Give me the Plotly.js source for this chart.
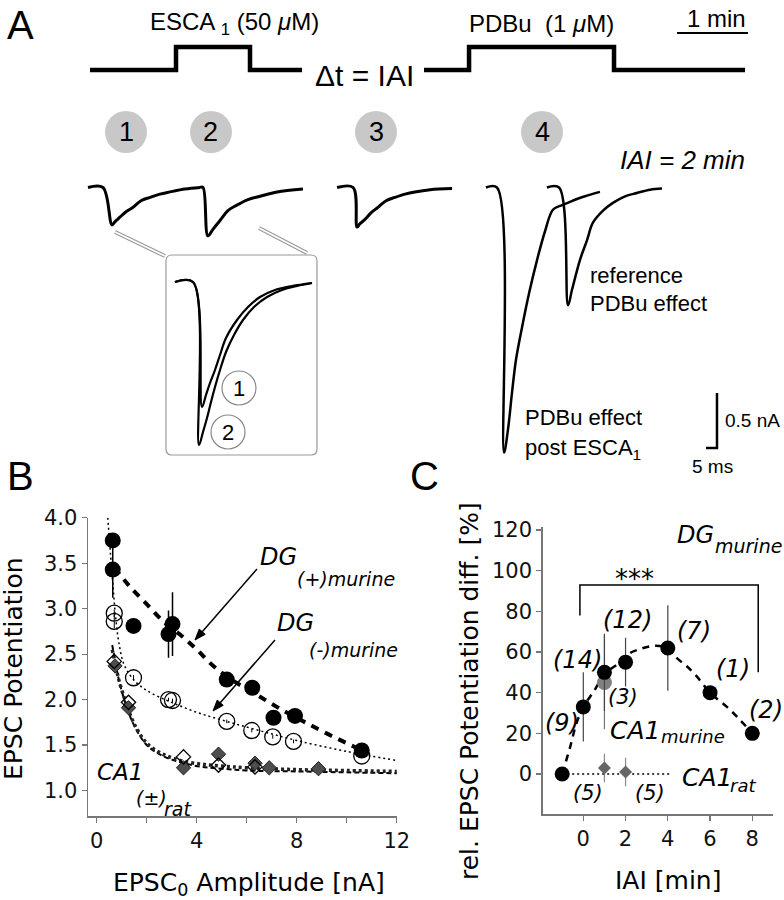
<!DOCTYPE html>
<html><head><meta charset="utf-8">
<script src="https://cdn.plot.ly/plotly-3.0.1.min.js"></script>
<style>html,body{margin:0;padding:0;background:#fff}#plot{width:784px;height:900px}</style>
</head><body><div id="plot"></div>
<script>
// ================= DATA =================
// Panel A: application protocol (time in min, level 0 = off, 1 = on)
const protocolEscaTime  = [1.268, 2.479, 2.479, 3.521, 3.521, 4.254];
const protocolEscaLevel = [0, 0, 1, 1, 0, 0];
const protocolPdbuTime  = [5.972, 6.606, 6.606, 8.648, 8.648, 10.493];
const protocolPdbuLevel = [0, 0, 1, 1, 0, 0];
const scaleMinTime  = [9.535, 10.535];
const scaleMinLevel = [1.609, 1.609];

// Panel A: EPSC sweeps (time in ms, current in nA)
const sweep1T = [40.0, 46.8, 50.9, 52.3, 54.5, 57.3, 60.5, 64.1, 68.2, 72.7, 77.3, 84.1, 90.9];
const sweep1I = [0, 0, -0.34, -0.31, -0.27, -0.22, -0.18, -0.12, -0.09, -0.06, -0.04, -0.014, 0];
const sweep2T = [90.9, 92.3, 94.5, 96.8, 100.0, 103.6, 107.7, 112.7, 118.2, 125.9, 137.7];
const sweep2I = [0, 0, -0.44, -0.38, -0.30, -0.21, -0.16, -0.11, -0.08, -0.04, -0.014];
const sweep3T = [153.2, 160.5, 162.3, 163.6, 165.9, 168.6, 171.8, 175.5, 179.5, 184.1, 188.6, 195.5, 205.5];
const sweep3I = [0, 0, -0.36, -0.33, -0.29, -0.23, -0.18, -0.12, -0.09, -0.06, -0.04, -0.02, -0.01];
const sweep4T = [220.9, 225.9, 229.1, 230.9, 232.7, 234.5, 237.3, 240.5, 244.1, 247.7, 251.4, 255.5, 259.1, 265.9, 272.7];
const sweep4I = [0, 0, -2.41, -2.20, -1.87, -1.57, -1.27, -0.96, -0.66, -0.40, -0.20, -0.16, -0.13, -0.08, -0.04];
const refSweepT = [248.6, 254.1, 258.2, 260.0, 263.6, 266.8, 269.5, 274.1, 278.6, 284.1, 289.5, 295.5, 300.9];
const refSweepI = [0, 0, -1.07, -0.93, -0.66, -0.48, -0.32, -0.21, -0.14, -0.08, -0.05, -0.02, -0.01];
const scaleBarT = [320.9, 325.9, 325.9];
const scaleBarI = [-2.368, -2.368, -1.868];

// Panel A inset: normalised EPSCs 1 and 2 (time in ms)
const insetT1 = [3.33, 10.0, 13.33, 14.81, 16.30, 18.15, 20.0, 22.22, 26.30, 30.37, 34.81, 40.37, 46.67, 54.07];
const insetI1 = [0, 0, -1.0, -0.904, -0.808, -0.704, -0.584, -0.448, -0.304, -0.2, -0.12, -0.064, -0.032, -0.008];
const insetT2 = [3.33, 10.0, 12.22, 13.70, 15.19, 16.67, 18.15, 20.0, 22.22, 25.19, 28.52, 32.59, 37.41, 42.96, 48.52, 54.07];
const insetI2 = [0, 0, -1.304, -1.2, -1.088, -0.96, -0.84, -0.704, -0.56, -0.424, -0.304, -0.2, -0.12, -0.064, -0.032, -0.008];

// Panel B: EPSC potentiation vs EPSC0 amplitude (nA)
const dgPlusAmp = [0.64, 0.64, 1.47, 2.87, 3.03, 5.2, 6.22, 7.07, 7.93, 10.6];
const dgPlusPot = [3.75, 3.43, 2.81, 2.72, 2.83, 2.22, 2.13, 1.80, 1.82, 1.44];
const dgPlusErr = [0, 0.31, 0, 0.26, 0.35, 0, 0, 0, 0, 0];
const dgMinusAmp = [0.70, 0.70, 1.47, 2.87, 3.03, 5.2, 6.2, 7.04, 7.87, 10.6];
const dgMinusPot = [2.95, 2.86, 2.24, 2.00, 1.99, 1.76, 1.66, 1.59, 1.54, 1.38];
const dgMinusErr = [0.04, 0.08, 0.03, 0.02, 0.02, 0.02, 0.02, 0.02, 0.02, 0.02];
const ca1FilledAmp = [0.73, 1.27, 3.47, 4.87, 6.33, 6.9, 8.87];
const ca1FilledPot = [2.37, 1.91, 1.25, 1.40, 1.30, 1.25, 1.24];
const ca1OpenAmp = [0.70, 1.27, 3.47, 4.87, 6.33];
const ca1OpenPot = [2.42, 1.97, 1.37, 1.28, 1.26];
const dgPlusFitAmp = [0.7, 1.3, 2.0, 2.7, 3.4, 4.0, 4.7, 5.5, 6.3, 7.2, 8.2, 9.4, 10.7];
const dgPlusFitPot = [3.45, 3.25, 3.05, 2.85, 2.7, 2.55, 2.36, 2.2, 2.07, 1.92, 1.77, 1.6, 1.43];
const dgMinusFitAmp = [0.44, 0.55, 0.65, 0.75, 0.9, 1.1, 1.47, 2.0, 2.9, 4.0, 5.2, 6.5, 8.0, 10.0, 12.0];
const dgMinusFitPot = [4.0, 3.6, 3.25, 2.92, 2.6, 2.38, 2.22, 2.1, 1.98, 1.86, 1.76, 1.66, 1.55, 1.43, 1.33];
const ca1FitAAmp = [0.62, 0.75, 0.9, 1.1, 1.3, 1.6, 2.0, 2.5, 3.0, 3.5, 4.2, 5.0, 6.0, 8.0, 10.0, 12.0];
const ca1FitAPot = [2.55, 2.38, 2.2, 2.02, 1.86, 1.68, 1.52, 1.42, 1.36, 1.32, 1.29, 1.27, 1.25, 1.23, 1.22, 1.21];
const ca1FitBAmp = [0.62, 0.75, 0.9, 1.1, 1.3, 1.6, 2.0, 2.5, 3.0, 3.5, 4.2, 5.0, 6.0, 8.0, 10.0, 12.0];
const ca1FitBPot = [2.6, 2.4, 2.2, 2.0, 1.84, 1.66, 1.5, 1.4, 1.34, 1.3, 1.26, 1.24, 1.22, 1.21, 1.2, 1.19];
const bXTicks = [0, 4, 8, 12];
const bXMinorTicks = [2, 6, 10];
const bYTicks = [1.0, 1.5, 2.0, 2.5, 3.0, 3.5, 4.0];
const bYTickText = ['1.0', '1.5', '2.0', '2.5', '3.0', '3.5', '4.0'];

// Panel C: rel. potentiation difference (%) vs IAI (min)
const dgIAI = [-1, 0, 1, 2, 4, 6, 8];
const dgDiff = [0, 33, 50, 55, 62, 40, 20];
const dgDiffErr = [0, 17, 19, 12, 21, 0, 0];
const ca1MurIAI = [1];
const ca1MurDiff = [45];
const ca1MurErr = [23];
const ca1RatIAI = [1, 2];
const ca1RatDiff = [3, 1];
const ca1RatErr = [7, 7];
const ca1RatLineIAI = [-1, 4.1];
const ca1RatLineDiff = [0, 0];
const dgFitIAI = [-1, -0.63, -0.32, 0, 0.32, 0.55, 1.0, 1.74, 2.13, 2.69, 3.32, 4.0, 4.43, 4.9, 5.37, 6.0, 6.8, 7.43, 8.0];
const dgFitDiff = [0, 13, 25, 33, 38, 41.5, 49, 55, 59, 61.5, 63, 62, 57, 53, 48, 40, 33, 26.5, 20];
const cXTicks = [0, 2, 4, 6, 8];
const cYTicks = [0, 20, 40, 60, 80, 100, 120];

// ================= DRAWING =================
const FA = 'Liberation Sans, Arial, Helvetica, sans-serif';
const FV = 'DejaVu Sans, Verdana, sans-serif';
const W = 784, H = 900;
const PX = v => v / W, PY = v => 1 - v / H;

const traces = [];
function line(x, y, xa, ya, width, color, dash, shape) {
  traces.push({x, y, xaxis: xa, yaxis: ya, type: 'scatter', mode: 'lines',
    line: {width, color, dash: dash || 'solid', shape: shape || 'linear'}});
}
// protocol
line(protocolEscaTime, protocolEscaLevel, 'x5', 'y5', 4.5, '#000');
line(protocolPdbuTime, protocolPdbuLevel, 'x5', 'y5', 4.5, '#000');
line(scaleMinTime, scaleMinLevel, 'x5', 'y5', 2, '#000');
// sweeps
line(sweep1T, sweep1I, 'x3', 'y3', 3, '#000', 'solid', 'spline');
line(sweep2T, sweep2I, 'x3', 'y3', 3, '#000', 'solid', 'spline');
line(sweep3T, sweep3I, 'x3', 'y3', 3, '#000', 'solid', 'spline');
line(sweep4T, sweep4I, 'x3', 'y3', 2.5, '#000', 'solid', 'spline');
line(refSweepT, refSweepI, 'x3', 'y3', 2.5, '#000', 'solid', 'spline');
line(scaleBarT, scaleBarI, 'x3', 'y3', 2.5, '#000');
// inset
line(insetT1, insetI1, 'x4', 'y4', 2.2, '#000', 'solid', 'spline');
line(insetT2, insetI2, 'x4', 'y4', 2.2, '#000', 'solid', 'spline');

// Panel B fits
line(ca1FitBAmp, ca1FitBPot, 'x', 'y', 2, '#000', '5px,3px', 'spline');
line(ca1FitAAmp, ca1FitAPot, 'x', 'y', 3.5, '#222', '3px,3px', 'spline');
line(dgMinusFitAmp, dgMinusFitPot, 'x', 'y', 1.5, '#000', '2px,3px', 'spline');
line(dgPlusFitAmp, dgPlusFitPot, 'x', 'y', 4, '#000', '8px,7px', 'spline');
// Panel B markers
traces.push({x: ca1FilledAmp, y: ca1FilledPot, xaxis: 'x', yaxis: 'y', type: 'scatter', mode: 'markers',
  marker: {symbol: 'diamond', size: 11, color: '#4d4d4d', line: {color: '#222', width: 1}}});
traces.push({x: ca1OpenAmp, y: ca1OpenPot, xaxis: 'x', yaxis: 'y', type: 'scatter', mode: 'markers',
  marker: {symbol: 'diamond-open', size: 11, color: '#000', line: {width: 1.3}}});
traces.push({x: dgMinusAmp, y: dgMinusPot, xaxis: 'x', yaxis: 'y', type: 'scatter', mode: 'markers',
  error_y: {type: 'data', array: dgMinusErr, color: '#000', thickness: 1, width: 0},
  marker: {symbol: 'circle-open', size: 16, color: '#000', line: {width: 1.3}}});
traces.push({x: dgPlusAmp, y: dgPlusPot, xaxis: 'x', yaxis: 'y', type: 'scatter', mode: 'markers',
  error_y: {type: 'data', array: dgPlusErr, color: '#000', thickness: 1.5, width: 0},
  marker: {symbol: 'circle', size: 16, color: '#000'}});

// Panel C
line(dgFitIAI, dgFitDiff, 'x2', 'y2', 2.5, '#000', '7px,6px', 'spline');
line(ca1RatLineIAI, ca1RatLineDiff, 'x2', 'y2', 1.5, '#000', '2px,3px');
traces.push({x: ca1MurIAI, y: ca1MurDiff, xaxis: 'x2', yaxis: 'y2', type: 'scatter', mode: 'markers',
  error_y: {type: 'data', array: ca1MurErr, color: '#777', thickness: 1.2, width: 0},
  marker: {symbol: 'circle', size: 15, color: '#808080'}});
traces.push({x: ca1RatIAI, y: ca1RatDiff, xaxis: 'x2', yaxis: 'y2', type: 'scatter', mode: 'markers',
  error_y: {type: 'data', array: ca1RatErr, color: '#888', thickness: 1.2, width: 0},
  marker: {symbol: 'diamond', size: 10, color: '#666'}});
traces.push({x: dgIAI, y: dgDiff, xaxis: 'x2', yaxis: 'y2', type: 'scatter', mode: 'markers',
  error_y: {type: 'data', array: dgDiffErr, color: '#444', thickness: 1.2, width: 0},
  marker: {symbol: 'circle', size: 15, color: '#000'}});

// annotations
function T(text, px, py, size, o) {
  o = o || {};
  return {text, x: PX(px), y: PY(py), xref: 'paper', yref: 'paper', showarrow: false,
    xanchor: o.xa || 'left', yanchor: 'middle', textangle: o.rot || 0,
    font: {family: o.f || FA, size, color: o.c || '#000'}};
}
const cV = {f: FV, xa: 'center'};
const ann = [
  T('A', 5, 25, 40),
  T('ESCA <sub>1</sub> (50 <i>μ</i>M)', 148, 24, 24),
  T('PDBu\u00a0 (1 <i>μ</i>M)', 467, 23, 24),
  T('1 min', 716, 19, 24, {xa: 'center'}),
  T('Δt = IAI', 313, 76, 30),
  T('1', 126, 132, 27, {xa: 'center'}),
  T('2', 211, 132, 27, {xa: 'center'}),
  T('3', 376, 132, 27, {xa: 'center'}),
  T('4', 542, 132, 27, {xa: 'center'}),
  T('<i>IAI = 2 min</i>', 682, 160, 26, {xa: 'center'}),
  T('reference', 588, 275, 22),
  T('PDBu effect', 588, 303, 22),
  T('PDBu effect', 523, 417, 22),
  T('post ESCA<sub>1</sub>', 523, 449, 22),
  T('0.5 nA', 723, 420, 19),
  T('5 ms', 712, 467, 19, {xa: 'center'}),
  T('1', 239, 388, 22, {xa: 'center'}),
  T('2', 228, 432, 22, {xa: 'center'}),
  // B
  T('B', 5, 476, 40),
  T('<i>DG</i>', 258, 557, 24, {f: FV}),
  T('<i>(+)murine</i>', 295, 579, 19, {f: FV}),
  T('<i>DG</i>', 275, 623, 24, {f: FV}),
  T('<i>(-)murine</i>', 307, 650, 19, {f: FV}),
  T('<i>CA1</i>', 95, 772, 23, {f: FV}),
  T('<i>(±)</i>', 134, 798, 19, {f: FV}),
  T('<i>rat</i>', 162, 809, 19, {f: FV}),
  T('EPSC Potentiation', 13, 669, 25, {f: FV, xa: 'center', rot: -90}),
  T('EPSC<sub>0</sub> Amplitude [nA]', 249, 884, 25, cV),
  // C
  T('C', 408, 476, 40),
  T('<i>DG</i>', 695, 535, 24, cV),
  T('<i>murine</i>', 748, 546, 19, cV),
  T('***', 634, 579, 26, cV),
  T('<i>(14)</i>', 577.5, 660, 24, cV),
  T('<i>(12)</i>', 627.5, 620, 24, cV),
  T('<i>(7)</i>', 694, 631, 24, cV),
  T('<i>(1)</i>', 732.5, 669, 24, cV),
  T('<i>(2)</i>', 766, 710, 24, cV),
  T('<i>(9)</i>', 561.7, 722.5, 24, cV),
  T('<i>(3)</i>', 623, 697, 21, cV),
  T('<i>CA1</i>', 635, 730, 25, cV),
  T('<i>murine</i>', 692.5, 736, 18, cV),
  T('<i>(5)</i>', 588, 793, 21, cV),
  T('<i>(5)</i>', 650, 793, 21, cV),
  T('<i>CA1</i>', 707, 777, 25, cV),
  T('<i>rat</i>', 743, 785, 18, cV),
  T('rel. EPSC Potentiation diff. [%]', 469, 691, 25, {f: FV, xa: 'center', rot: -90}),
  T('IAI [min]', 668, 880, 25, cV)
];

// shapes
function circ(cx, cy, r, fill, lc, lw) {
  return {type: 'circle', xref: 'paper', yref: 'paper', x0: PX(cx - r), x1: PX(cx + r), y0: PY(cy + r), y1: PY(cy - r),
    fillcolor: fill, line: {color: lc || 'rgba(0,0,0,0)', width: lw || 0}, layer: 'below'};
}
function seg(x0, y0, x1, y1, color, width) {
  return {type: 'line', xref: 'paper', yref: 'paper', x0: PX(x0), y0: PY(y0), x1: PX(x1), y1: PY(y1), line: {color, width}};
}
function arrowShapes(tx, ty, hx, hy) {
  const dx = hx - tx, dy = hy - ty, L = Math.hypot(dx, dy), ux = dx / L, uy = dy / L;
  const len = 11, half = 4;
  const bx = hx - ux * len, by = hy - uy * len;
  const p1 = [bx - uy * half, by + ux * half], p2 = [bx + uy * half, by - ux * half];
  return [
    seg(tx, ty, bx + ux * 2, by + uy * 2, '#000', 1.5),
    {type: 'path', xref: 'paper', yref: 'paper',
      path: `M${PX(hx)},${PY(hy)} L${PX(p1[0])},${PY(p1[1])} L${PX(p2[0])},${PY(p2[1])} Z`,
      fillcolor: '#000', line: {color: '#000', width: 1}}
  ];
}
function rrect(x0, y0, x1, y1, r) {
  const X = PX, Y = PY;
  return `M${X(x0 + r)},${Y(y0)} L${X(x1 - r)},${Y(y0)} Q${X(x1)},${Y(y0)} ${X(x1)},${Y(y0 + r)} ` +
    `L${X(x1)},${Y(y1 - r)} Q${X(x1)},${Y(y1)} ${X(x1 - r)},${Y(y1)} L${X(x0 + r)},${Y(y1)} ` +
    `Q${X(x0)},${Y(y1)} ${X(x0)},${Y(y1 - r)} L${X(x0)},${Y(y0 + r)} Q${X(x0)},${Y(y0)} ${X(x0 + r)},${Y(y0)} Z`;
}
const shapes = [
  circ(126, 132, 21, '#c8c8c8'), circ(211, 132, 21, '#c8c8c8'),
  circ(376, 132, 21, '#c8c8c8'), circ(542, 132, 21, '#c8c8c8'),
  circ(239, 388, 17, 'rgba(0,0,0,0)', '#888', 1.2),
  circ(228, 432, 17, 'rgba(0,0,0,0)', '#888', 1.2),
  {type: 'path', xref: 'paper', yref: 'paper', path: rrect(166, 255, 317, 455, 6),
    line: {color: '#999', width: 1.2}, fillcolor: 'rgba(0,0,0,0)'},
  seg(115, 232, 165, 256, '#999', 4), seg(115, 232, 165, 256, '#fff', 1.8),
  seg(259, 228, 307, 253, '#999', 4), seg(259, 228, 307, 253, '#fff', 1.8),
  {type: 'path', xref: 'x2', yref: 'y2', path: 'M-0.16,78 L-0.16,93 L8.28,93 L8.28,50',
    line: {color: '#000', width: 1.5}, fillcolor: 'rgba(0,0,0,0)'}
].concat(arrowShapes(257, 569, 195, 640), arrowShapes(275, 640, 213, 711));

const axBase = {showgrid: false, zeroline: false, showline: true, linecolor: '#777', linewidth: 1.5,
  ticks: 'outside', ticklen: 5, tickwidth: 1.2, tickcolor: '#777', fixedrange: true,
  tickfont: {family: FV, size: 21, color: '#111'}, tickmode: 'array'};
const hidden = {visible: true, showline: false, showgrid: false, zeroline: false, showticklabels: false,
  ticks: '', fixedrange: true, tickmode: 'array', tickvals: []};

const layout = {
  width: W, height: H, margin: {l: 0, r: 0, t: 0, b: 0},
  paper_bgcolor: '#fff', plot_bgcolor: 'rgba(0,0,0,0)', showlegend: false,
  xaxis: Object.assign({}, axBase, {domain: [88 / W, 397 / W], range: [-0.35, 12.01], anchor: 'y',
    tickvals: bXTicks, ticktext: bXTicks.map(String),
    minor: {tickmode: 'array', tickvals: bXMinorTicks, ticks: 'outside', ticklen: 5, tickwidth: 1.2, tickcolor: '#777', showgrid: false}}),
  yaxis: Object.assign({}, axBase, {domain: [1 - 816 / H, 1 - 517.7 / H], range: [0.72, 4.0], anchor: 'x',
    tickvals: bYTicks, ticktext: bYTickText}),
  xaxis2: Object.assign({}, axBase, {domain: [542.7 / W, 773.3 / W], range: [-1.922, 8.994], anchor: 'y2',
    tickvals: cXTicks}),
  yaxis2: Object.assign({}, axBase, {domain: [1 - 814.3 / H, 1 - 527 / H], range: [-19.82, 121.48], anchor: 'x2',
    tickvals: cYTicks}),
  xaxis3: Object.assign({}, hidden, {domain: [0, 1], range: [0, 356.36], anchor: 'y3'}),
  yaxis3: Object.assign({}, hidden, {domain: [0, 1], range: [-6.4773, 1.7045], anchor: 'x3'}),
  xaxis4: Object.assign({}, hidden, {domain: [166 / W, 317 / W], range: [0, 55.93], anchor: 'y4'}),
  yaxis4: Object.assign({}, hidden, {domain: [1 - 455 / H, 1 - 255 / H], range: [-1.384, 0.216], anchor: 'x4'}),
  xaxis5: Object.assign({}, hidden, {domain: [0, 1], range: [0, 11.042], anchor: 'y5'}),
  yaxis5: Object.assign({}, hidden, {domain: [0, 1], range: [-36.087, 3.0435], anchor: 'x5'}),
  annotations: ann, shapes: shapes
};
traces.forEach(t => { t.hoverinfo = 'skip'; t.showlegend = false; });
Plotly.newPlot('plot', traces, layout, {staticPlot: true, displayModeBar: false});
</script>
</body></html>
